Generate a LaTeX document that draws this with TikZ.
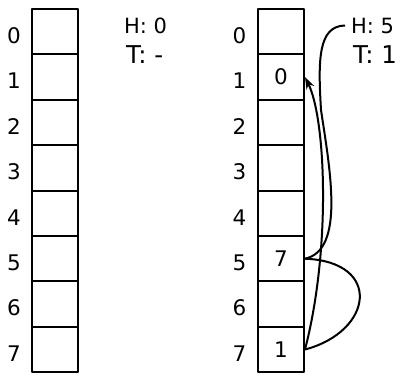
\documentclass[tikz,border=0pt]{standalone}
\usepackage{fontspec}
\setmainfont{DejaVu Sans}
\usetikzlibrary{positioning}
\usetikzlibrary{arrows.meta}

\begin{document}
\begin{tikzpicture}[x=1pt, y=-1pt, line join=round, line width=2pt,
  cell/.style={draw, minimum width=46pt, minimum height=45.4pt, inner sep=0pt,
    font=\fontsize{21.5}{25}\selectfont},
  idx/.style={inner sep=0pt, font=\fontsize{21.5}{25}\selectfont},
  hlab/.style={anchor=base west, inner sep=0pt, font=\fontsize{21}{25}\selectfont},
  tlab/.style={anchor=base west, inner sep=0pt, font=\fontsize{24.5}{29}\selectfont}]
\useasboundingbox (0,0) rectangle (401,375);
% empty queue
\foreach \i in {0,...,7} {
  \node[cell] (l\i) at (55, 31.7+45.4*\i) {};
  \node[idx] (li\i) at ([xshift=-17pt, yshift=-4pt]l\i.west) {\i};
}
\node[hlab] (hl) at (123,33) {H: 0};
\node[tlab] (tl) at (125,63) {T: -};
% filled queue
\foreach \i/\v in {0/{},1/0,2/{},3/{},4/{},5/7,6/{},7/1} {
  \node[cell] (r\i) at (281, 31.7+45.4*\i) {\v};
  \node[idx] (ri\i) at ([xshift=-17.5pt, yshift=-4pt]r\i.west) {\i};
}
\node[hlab] (hr) at (350,33) {H: 5};
\node[tlab] (tr) at (352,63) {T: 1};
\draw ([xshift=-5pt]hr.west) .. controls (318,26) and (318,60) .. (321,110)
  .. controls (330,170) and (345,250) .. (r5.east);
\draw (r5.east) .. controls +(78,3) and +(68,-18) .. (r7.east);
\draw[-{Stealth[length=12pt, width=8.5pt, inset=4pt]}] (r7.east) .. controls +(26,-100) and +(21,42) .. (r1.east);
\end{tikzpicture}
\end{document}
